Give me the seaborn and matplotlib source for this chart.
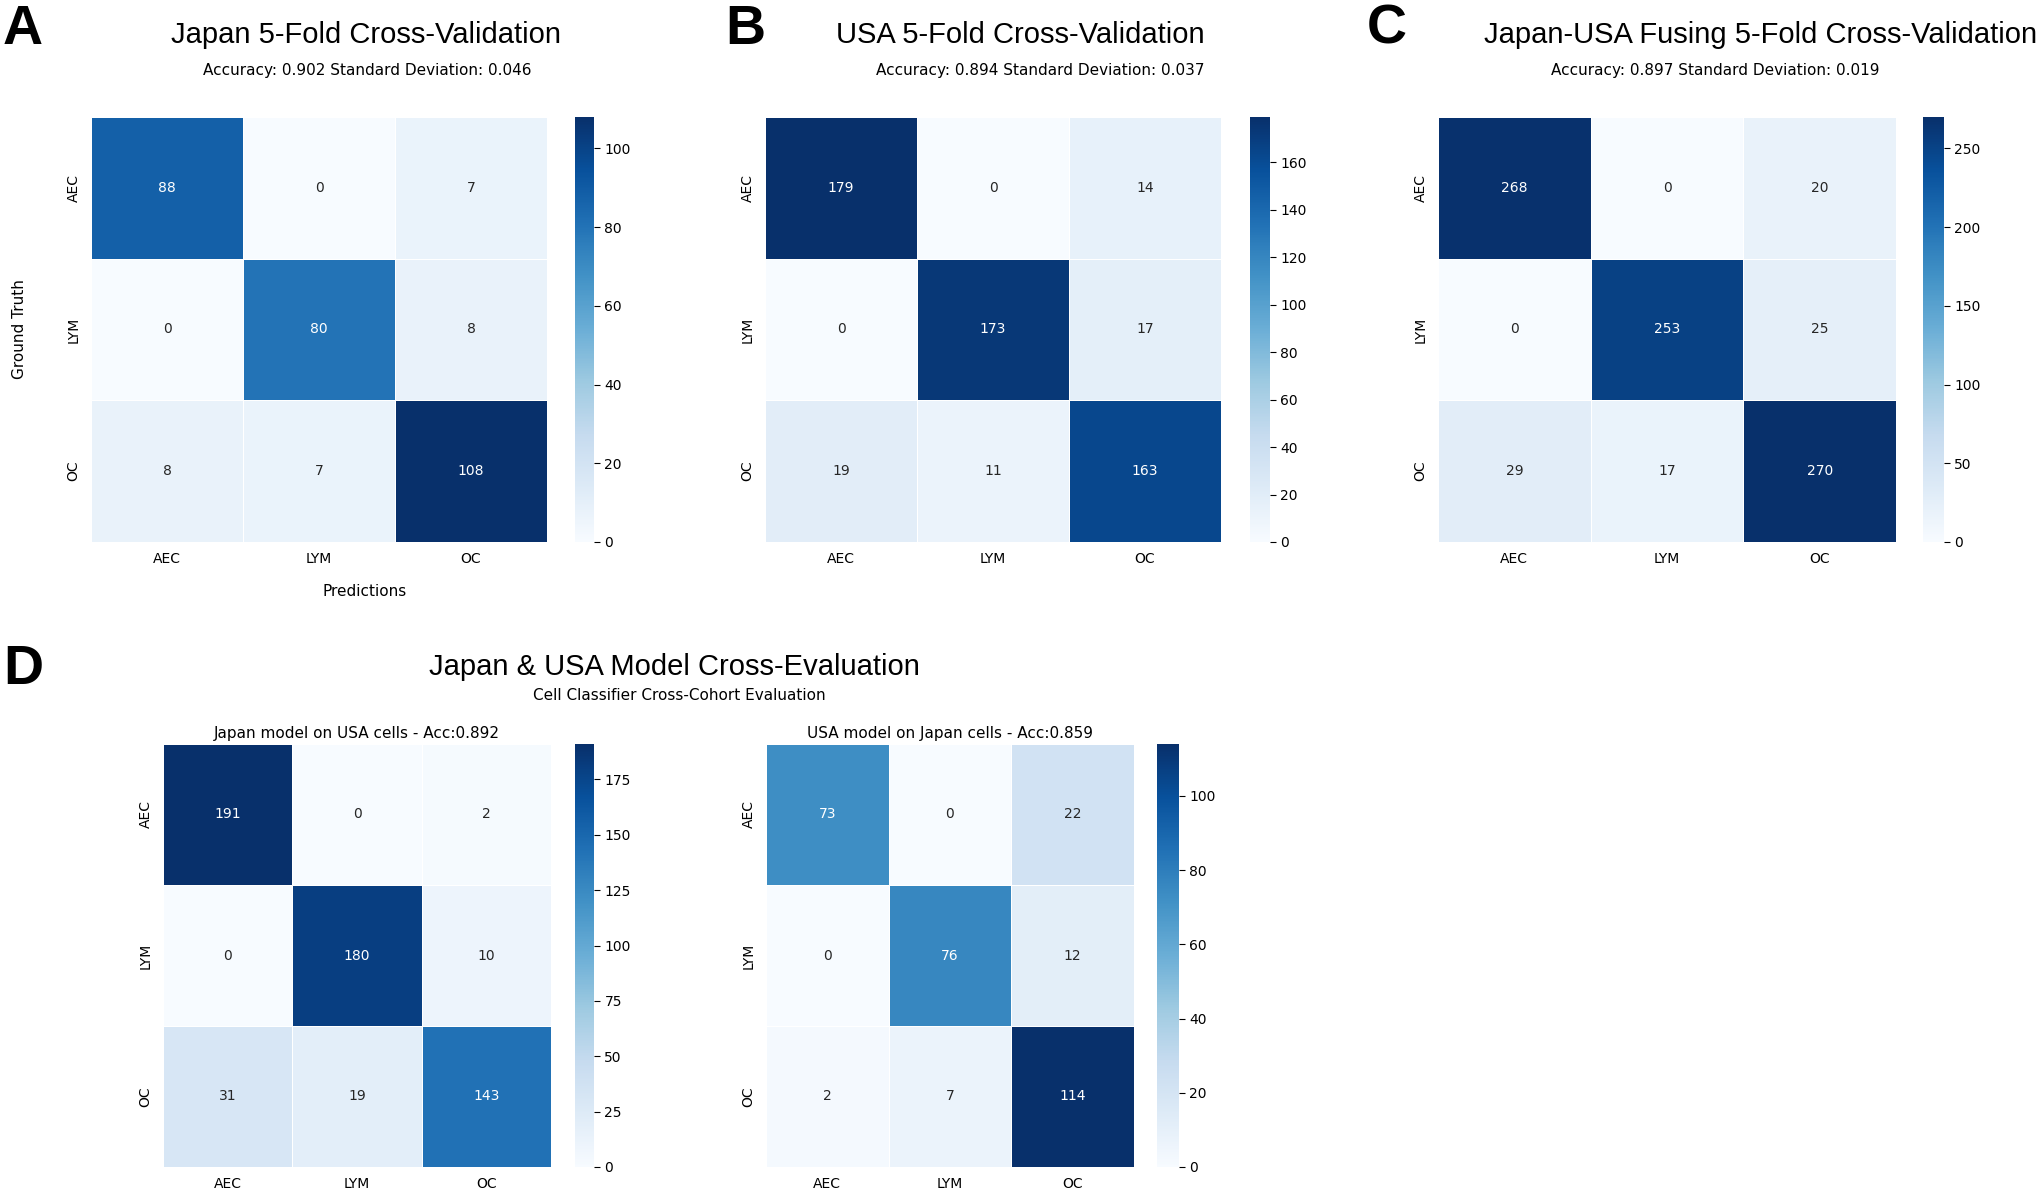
import matplotlib
matplotlib.use("Agg")
import matplotlib.pyplot as plt
import numpy as np
import seaborn as sns

classes = ["AEC", "LYM", "OC"]

japan_cv = [[88, 0, 7], [0, 80, 8], [8, 7, 108]]
usa_cv = [[179, 0, 14], [0, 173, 17], [19, 11, 163]]
fused_cv = [[268, 0, 20], [0, 253, 25], [29, 17, 270]]
japan_on_usa = [[191, 0, 2], [0, 180, 10], [31, 19, 143]]
usa_on_japan = [[73, 0, 22], [0, 76, 12], [2, 7, 114]]

cv_titles = [
    "Japan 5-Fold Cross-Validation",
    "USA 5-Fold Cross-Validation",
    "Japan-USA Fusing 5-Fold Cross-Validation",
]
cv_subtitles = [
    "Accuracy: 0.902 Standard Deviation: 0.046",
    "Accuracy: 0.894 Standard Deviation: 0.037",
    "Accuracy: 0.897 Standard Deviation: 0.019",
]
cross_titles = [
    "Japan model on USA cells - Acc:0.892",
    "USA model on Japan cells - Acc:0.859",
]

sns.set_style("white")
plt.rcParams["font.family"] = ["DejaVu Sans"]
plt.rcParams.update({
    "text.color": "black",
    "axes.labelcolor": "black",
    "xtick.color": "black",
    "ytick.color": "black",
})
HEAD = "Liberation Sans"

W, H = 2043, 1190
fig = plt.figure(figsize=(W / 100, H / 100), dpi=100)


def px_box(x0, x1, y0, y1):
    # pixel coords (top-left origin) -> figure fraction rect
    return [x0 / W, 1 - y1 / H, (x1 - x0) / W, (y1 - y0) / H]


def draw_cm(cm, ax_box, cb_box):
    ax = fig.add_axes(px_box(*ax_box))
    cax = fig.add_axes(px_box(*cb_box))
    sns.heatmap(np.array(cm), annot=True, fmt="d", cmap="Blues", ax=ax, cbar_ax=cax,
                xticklabels=classes, yticklabels=classes, linewidths=0.5, linecolor="white",
                annot_kws={"fontsize": 10})
    ax.tick_params(axis="both", labelsize=10, length=4, width=0.8)
    ax.tick_params(axis="x", rotation=0)
    ax.tick_params(axis="y", rotation=90)
    for lbl in ax.get_yticklabels():
        lbl.set_va("center")
    cax.tick_params(labelsize=10, length=4, width=0.8)
    return ax


# top row
top_boxes = [
    ((91, 547, 117, 542), (575, 594, 117, 542)),
    ((765, 1221, 117, 542), (1250, 1270, 117, 542)),
    ((1438, 1896, 117, 542), (1923, 1944, 117, 542)),
]
title_x = [366, 1020, 1761]
sub_x = [367, 1040, 1715]
letters_x = [3, 725, 1367]

for i, cm in enumerate([japan_cv, usa_cv, fused_cv]):
    ax = draw_cm(cm, *top_boxes[i])
    fig.text(title_x[i] / W, 1 - 35 / H, cv_titles[i], family=HEAD, fontsize=21,
             ha="center", va="center")
    fig.text(sub_x[i] / W, 1 - 70 / H, cv_subtitles[i], fontsize=11,
             ha="center", va="center")
    fig.text(letters_x[i] / W, 1 - 4 / H, "ABC"[i], family=HEAD, fontsize=40,
             fontweight="bold", ha="left", va="top")
    if i == 0:
        ax.set_ylabel("Ground Truth", fontsize=11)
        ax.set_xlabel("Predictions", fontsize=11)
        ax.yaxis.set_label_coords(-0.14, 0.5)
        ax.xaxis.set_label_coords(0.60, -0.10)

# bottom row
bottom_boxes = [
    ((163, 551, 744, 1167), (575, 594, 744, 1167)),
    ((766, 1134, 744, 1167), (1157, 1179, 744, 1167)),
]
for i, cm in enumerate([japan_on_usa, usa_on_japan]):
    ax = draw_cm(cm, *bottom_boxes[i])
    ax.set_title(cross_titles[i], fontsize=11, pad=4)

fig.text(674 / W, 1 - 667 / H, "Japan & USA Model Cross-Evaluation", family=HEAD,
         fontsize=21, ha="center", va="center")
fig.text(679 / W, 1 - 695 / H, "Cell Classifier Cross-Cohort Evaluation", fontsize=11,
         ha="center", va="center")
fig.text(3 / W, 1 - 644 / H, "D", family=HEAD, fontsize=40, fontweight="bold",
         ha="left", va="top")

fig.savefig("out.png", dpi=100)
